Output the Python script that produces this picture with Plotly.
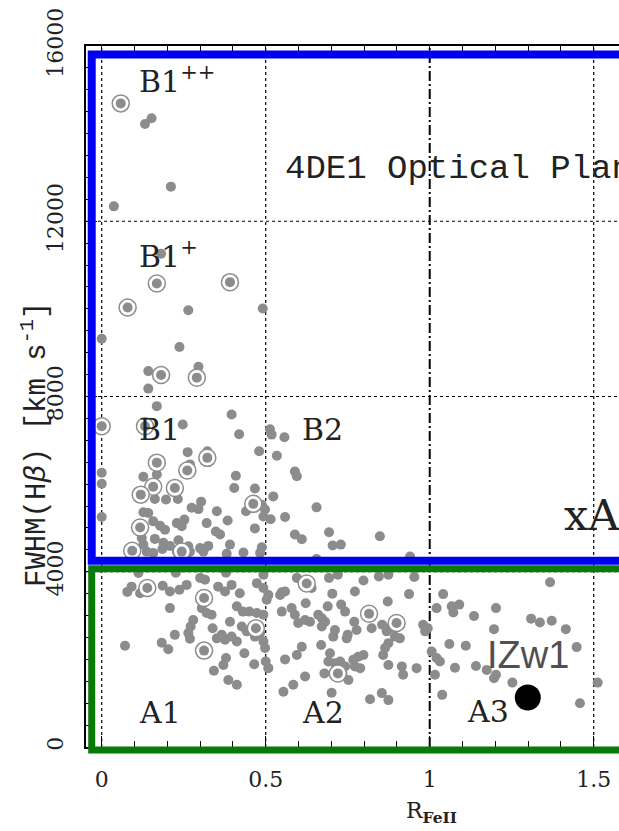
import plotly.graph_objects as go

# ---- data (R_FeII, FWHM Hbeta in km/s) ----
r_dots = [0.132, 0.152, 0.211, 0.037, 0.181, 0.264, 0.491, 0.000, 0.237, 0.142, 0.295, 0.142, 0.168, 0.396,
          0.247, 0.513, 0.419, 0.518, 0.557, 0.480, 0.534, 0.262, 0.322, 0.330, 0.269, 0.168, 0.409, 0.404,
          0.467, 0.589, 0.595, 0.000, 0.000, 0.127, 0.162, 0.196, 0.232, 0.303, 0.274, 0.295, 0.351, 0.440,
          0.523, 0.488, 0.498, 0.515, 0.493, 0.655, 0.000, 0.127, 0.142, 0.157, 0.178, 0.193, 0.229, 0.244,
          0.252, 0.320, 0.348, 0.361, 0.384, 0.467, 0.559, 0.589, 0.610, 0.122, 0.127, 0.162, 0.188, 0.208,
          0.234, 0.264, 0.300, 0.325, 0.391, 0.432, 0.488, 0.137, 0.157, 0.185, 0.259, 0.303, 0.381, 0.483,
          0.693, 0.704, 0.729, 0.848, 0.940, 0.655, 0.310, 0.229, 0.269,
          0.112, 0.226, 0.300, 0.315, 0.379, 0.493, 0.091, 0.078, 0.117, 0.186, 0.208, 0.237, 0.259, 0.355,
          0.376, 0.396, 0.421, 0.473, 0.493, 0.208, 0.305, 0.320, 0.335, 0.412, 0.430, 0.450, 0.473, 0.493,
          0.279, 0.271, 0.264, 0.269, 0.223, 0.338, 0.391, 0.366, 0.351, 0.376, 0.396, 0.412, 0.427, 0.442,
          0.467, 0.483, 0.493, 0.498, 0.071, 0.183, 0.203, 0.435, 0.379, 0.371, 0.465, 0.342, 0.386, 0.412,
          0.508, 0.500, 0.554, 0.584, 0.620, 0.559, 0.595, 0.610, 0.595, 0.640, 0.693, 0.720, 0.798, 0.845,
          0.874, 0.953, 0.549, 0.559, 0.544, 0.508, 0.503, 0.703, 0.772, 0.937, 0.872, 0.622, 0.549, 0.579,
          0.589, 0.599, 0.620, 0.635, 0.660, 0.671, 0.681, 0.671, 0.689, 0.730, 0.742, 0.711, 0.706, 0.750,
          0.747, 0.770, 0.777, 0.823, 0.855, 0.869, 0.879, 0.894, 0.909, 0.980, 0.986, 0.874, 0.864, 0.858,
          0.669, 0.696, 0.691, 0.711, 0.727, 0.742, 0.716, 0.734, 0.752, 0.767, 0.782, 0.798, 0.772, 0.788,
          0.679, 0.874, 0.915, 0.919, 0.960, 0.701, 0.818, 0.854, 0.874,
          1.367, 1.041, 1.021, 1.067, 1.072, 1.090, 1.135, 1.202, 1.309, 1.336, 1.372, 1.415, 1.196, 0.994,
          1.060, 1.110, 1.448, 1.006, 1.021, 1.031, 1.077, 1.141, 1.174, 1.202, 1.196, 1.016, 1.252, 1.512,
          1.038, 1.458]
f_dots = [14220, 14350, 12790, 12340, 11260, 9970, 10010, 9320, 9130, 8580, 8680, 8180, 7780, 7590,
          7360, 7250, 7140, 7130, 7070, 6750, 6650, 6730, 6750, 6640, 6450, 6220, 6190, 5910,
          5900, 6290, 6180, 6260, 6010, 6170, 5660, 5650, 5660, 5600, 5460, 5430, 5380, 5380,
          5720, 5530, 5420, 5200, 5260, 5470, 5250, 5360, 5340, 5150, 5050, 4960, 5110, 5040,
          5190, 5110, 4920, 4850, 5170, 4990, 5250, 4850, 4740, 4770, 4620, 4750, 4660, 4590,
          4720, 4580, 4540, 4590, 4620, 4440, 4560, 4460, 4430, 4520, 4390, 4520, 4410, 4430,
          4900, 4600, 4620, 4810, 4350, 4290, 4460, 4460, 4460,
          3970, 3980, 3860, 3820, 3980, 3930, 3660, 3540, 3510, 3680, 3550, 3590, 3700, 3660,
          3550, 3700, 3510, 3740, 3630, 3170, 3170, 3060, 3020, 3210, 3090, 3090, 3060, 3020,
          2900, 2750, 2600, 2470, 2560, 2710, 2860, 2560, 2480, 2450, 2520, 2410, 2750, 2640,
          2520, 2600, 2410, 2260, 2310, 2380, 2230, 2140, 2030, 1870, 1890, 1740, 1530, 1420,
          1800, 1950, 1260, 1420, 1610, 2000, 2100, 2290, 3860, 3630, 3860, 3930, 3800, 3890,
          3930, 3880, 3530, 3550, 3470, 3470, 3360, 3500, 3550, 3490, 3320, 3280, 3090, 3170,
          3020, 2830, 2900, 2860, 3020, 2940, 2860, 2750, 3210, 3250, 3090, 2670, 2520, 2560,
          2480, 2860, 2670, 2710, 2790, 2640, 2710, 2520, 2480, 2790, 2640, 2370, 2260, 2100,
          2330, 2140, 1950, 1910, 1950, 1840, 1760, 1680, 1530, 1990, 2060, 2100, 1840, 1800,
          1680, 1870, 1840, 1650, 1800, 1240, 1090, 1230, 1070,
          3760, 3490, 3170, 3210, 3070, 3250, 2990, 3170, 2930, 2840, 2880, 2690, 2690, 2710,
          2350, 2310, 2280, 2180, 2030, 1950, 1810, 1850, 1760, 1650, 1570, 1650, 1470, 1470,
          1190, 1000]

r_circled = [0.058, 0.168, 0.391, 0.079, 0.181, 0.290, 0.000, 0.132, 0.168, 0.261, 0.322, 0.157, 0.223,
             0.119, 0.462, 0.117, 0.093, 0.244, 0.139, 0.312, 0.470, 0.312, 0.625, 0.815, 0.899, 0.720]
f_circled = [14690, 10580, 10610, 10030, 8490, 8430, 7320, 7320, 6490, 6310, 6600, 5940, 5910,
             5760, 5550, 5010, 4480, 4460, 3630, 3400, 2710, 2200, 3730, 3040, 2830, 1680]

izw1_r = [1.299]
izw1_f = [1130]

x_ticks = [0, 0.5, 1, 1.5]
x_ticktext = ["0", "0.5", "1", "1.5"]
y_ticks = [0, 4000, 8000, 12000, 16000]
y_ticktext = ["0", "4000", "8000", "12000", "16000"]

# ---- figure ----
XR = [-0.0479, 1.5771]
YR = [0, 16000]
def px(v):
    return (v - XR[0]) / (XR[1] - XR[0])
def py(v):
    return (v - YR[0]) / (YR[1] - YR[0])

GRAY = "#8c8c8c"
fig = go.Figure()
fig.add_trace(go.Scatter(x=r_dots, y=f_dots, mode="markers",
                         marker=dict(size=10, color=GRAY, line=dict(width=0)),
                         showlegend=False, cliponaxis=False))
fig.add_trace(go.Scatter(x=r_circled, y=f_circled, mode="markers",
                         marker=dict(size=17, color="white", line=dict(width=1.5, color=GRAY)),
                         showlegend=False))
fig.add_trace(go.Scatter(x=r_circled, y=f_circled, mode="markers",
                         marker=dict(size=10, color=GRAY, line=dict(width=0)),
                         showlegend=False))
fig.add_trace(go.Scatter(x=izw1_r, y=izw1_f, mode="markers",
                         marker=dict(size=26, color="black", line=dict(width=0)),
                         showlegend=False))

shapes = []
for xv in [0, 0.5, 1.5]:
    shapes.append(dict(type="line", xref="x", yref="paper", x0=xv, x1=xv, y0=0, y1=1,
                       line=dict(color="black", width=1.2, dash="dot"), layer="below"))
for yv in [4000, 8000, 12000]:
    shapes.append(dict(type="line", xref="paper", yref="y", x0=0, x1=1, y0=yv, y1=yv,
                       line=dict(color="black", width=1.2, dash="dot"), layer="below"))
shapes.append(dict(type="line", xref="x", yref="paper", x0=1, x1=1, y0=0, y1=1,
                   line=dict(color="black", width=2, dash="10px,3px,2px,3px"), layer="below"))
# region boxes
shapes.append(dict(type="rect", xref="paper", yref="paper",
                   x0=px(-0.0305), x1=1.3, y0=py(4251), y1=py(15806),
                   line=dict(color="#0000f0", width=8), fillcolor="rgba(0,0,0,0)", layer="above"))
shapes.append(dict(type="rect", xref="paper", yref="paper",
                   x0=px(-0.0305), x1=1.3, y0=py(-69), y1=py(4069),
                   line=dict(color="#087a08", width=7), fillcolor="rgba(0,0,0,0)", layer="above"))

SERIF = "DejaVu Serif"
lab = dict(family=SERIF, size=30, color="#222")
annotations = [
    dict(x=0.108, y=15245, text="B1<sup>++</sup>", font=lab),
    dict(x=0.108, y=11246, text="B1<sup>+</sup>", font=lab),
    dict(x=0.108, y=7246, text="B1", font=lab),
    dict(x=0.605, y=7246, text="B2", font=lab),
    dict(x=0.552, y=13189, text="4DE1 Optical Plane", font=dict(family="Liberation Mono", size=34, color="#222")),
    dict(x=1.402, y=5303, text="xA", font=dict(family=SERIF, size=43, color="#222")),
    dict(x=0.108, y=777, text="A1", font=lab),
    dict(x=0.605, y=777, text="A2", font=lab),
    dict(x=1.108, y=800, text="A3", font=lab),
    dict(x=1.169, y=2103, text="IZw1", font=dict(family="Liberation Sans", size=38, color="#505050")),
]
for a in annotations:
    a.update(xref="x", yref="y", xanchor="left", yanchor="middle", showarrow=False)

annotations.append(dict(xref="paper", yref="paper", x=(35 - 86) / 533, y=(747 - 445) / 701,
                        text="FWHM(H<i>β</i>) [km s<sup>-1</sup>]", textangle=-90, showarrow=False,
                        xanchor="center", yanchor="middle",
                        font=dict(family="Liberation Mono", size=29, color="#222")))
annotations.append(dict(xref="paper", yref="paper", x=(431 - 86) / 533, y=(747 - 813) / 701,
                        text="R<sub><b>FeII</b></sub>", showarrow=False,
                        xanchor="center", yanchor="middle",
                        font=dict(family=SERIF, size=22, color="#222")))

fig.update_layout(
    width=619, height=831,
    margin=dict(l=86, r=0, t=46, b=84, pad=0),
    plot_bgcolor="white", paper_bgcolor="white",
    shapes=shapes, annotations=annotations,
    xaxis=dict(range=XR, tickvals=x_ticks, ticktext=x_ticktext, ticks="inside", ticklen=11,
               tickwidth=1.3, tickcolor="black", showline=True, linecolor="black", linewidth=1.5,
               mirror="ticks", showgrid=False, zeroline=False, ticklabelstandoff=12,
               tickfont=dict(family=SERIF, size=22, color="#222"),
               minor=dict(dtick=0.1, tick0=0, ticks="inside", ticklen=6, tickcolor="black", tickwidth=1.2,
                          showgrid=False)),
    yaxis=dict(range=YR, tickvals=y_ticks, ticktext=y_ticktext, ticks="inside", ticklen=11,
               tickwidth=1.3, tickcolor="black", showline=True, linecolor="black", linewidth=1.5,
               mirror=False, showgrid=False, zeroline=False, tickangle=-90, ticklabelstandoff=12,
               tickfont=dict(family=SERIF, size=22, color="#222"),
               minor=dict(dtick=500, tick0=0, ticks="inside", ticklen=6, tickcolor="black", tickwidth=1.2,
                          showgrid=False)),
)

fig.write_html("out.html")
